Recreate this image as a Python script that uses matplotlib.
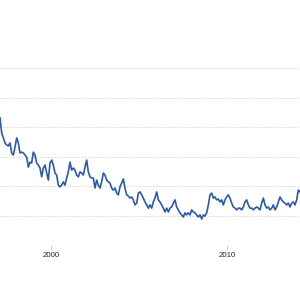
import numpy as np
import matplotlib
matplotlib.use("Agg")
import matplotlib.pyplot as plt

# Time span covered by the sampled series (decimal years)
start_year = 1997.10
end_year = 2014.15

values = [
    4.32, 3.81, 3.64, 3.47, 3.40, 3.37, 3.47, 3.13, 3.06, 3.33, 3.64, 3.47,
    3.13, 3.16, 3.13, 3.06, 2.99, 2.65, 2.82, 2.79, 3.16, 3.06, 2.79, 2.72,
    2.62, 2.32, 2.62, 2.72, 2.45, 2.21, 2.79, 2.89, 2.72, 2.45, 2.38, 2.04,
    1.98, 2.04, 2.15, 2.04, 2.28, 2.49, 2.82, 2.55, 2.62, 2.55, 2.38, 2.32,
    2.49, 2.45, 2.38, 2.65, 2.89, 2.49, 2.32, 2.28, 2.28, 1.94, 2.21, 2.04,
    1.94, 2.15, 2.45, 2.38, 2.21, 2.15, 2.11, 1.94, 1.87, 1.94, 1.77, 1.71,
    1.98, 2.11, 2.25, 1.94, 1.71, 1.67, 1.60, 1.64, 1.54, 1.37, 1.43, 1.77,
    1.81, 1.71, 1.60, 1.47, 1.37, 1.26, 1.37, 1.26, 1.47, 1.60, 1.81, 1.54,
    1.47, 1.37, 1.26, 1.13, 1.26, 1.13, 1.26, 1.30, 1.43, 1.54, 1.30, 1.20,
    1.10, 1.03, 0.96, 1.10, 1.03, 1.10, 1.03, 1.20, 1.13, 1.10, 1.03, 0.96,
    1.03, 0.89, 1.03, 0.99, 1.10, 1.37, 1.71, 1.77, 1.60, 1.64, 1.54, 1.57,
    1.47, 1.54, 1.37, 1.54, 1.64, 1.71, 1.60, 1.43, 1.30, 1.26, 1.20, 1.26,
    1.26, 1.20, 1.30, 1.47, 1.54, 1.37, 1.26, 1.26, 1.20, 1.26, 1.30, 1.26,
    1.20, 1.43, 1.60, 1.37, 1.26, 1.30, 1.20, 1.26, 1.37, 1.20, 1.30, 1.47,
    1.64, 1.54, 1.47, 1.43, 1.37, 1.43, 1.30, 1.43, 1.47, 1.37, 1.54, 1.87,
    1.81,
]
years = np.linspace(start_year, end_year, len(values))

grid_values = [0, 1, 2, 3, 4, 5, 6]
xtick_years = [2000, 2010]
xtick_labels = ["2000", "2010"]

fig = plt.figure(figsize=(3, 3), dpi=100)
ax = fig.add_axes([0, 0.1823, 1, 0.8177])

ax.plot(years, values, color="#2b5aa8", linewidth=1.2, solid_joinstyle="round")

ax.set_xlim(start_year, end_year)
ax.set_ylim(0, 8.315)
ax.set_yticks(grid_values)
ax.tick_params(axis="y", left=False, labelleft=False)
ax.yaxis.grid(True, color="#d6d6d6", linewidth=0.72, linestyle=(0, (1.5, 1.5)))
ax.set_axisbelow(True)

ax.set_xticks(xtick_years)
ax.set_xticklabels(xtick_labels, fontfamily="Liberation Sans", fontsize=5.6, color="#222222")
ax.tick_params(axis="x", length=3.6, width=0.8, color="#cccccc", pad=1.2)

for s in ax.spines.values():
    s.set_visible(False)

fig.savefig("out.png", dpi=100, facecolor="white")
